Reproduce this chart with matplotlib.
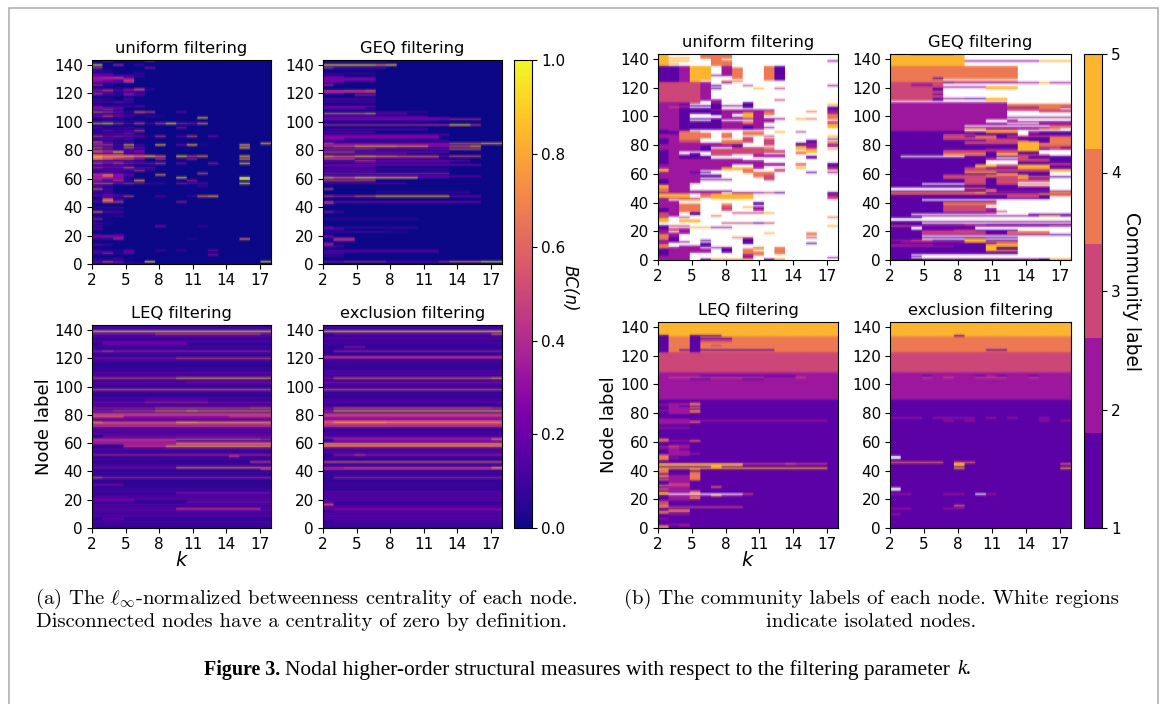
import numpy as np
import matplotlib
matplotlib.use('Agg')
import matplotlib.pyplot as plt
from matplotlib.cm import ScalarMappable
from matplotlib.colors import ListedColormap, Normalize

N_NODES = 143
K_VALUES = list(range(2, 19))
K_TICKS = [2, 5, 8, 11, 14, 17]
NODE_TICKS = [0, 20, 40, 60, 80, 100, 120, 140]
FILTERS = ['uniform filtering', 'GEQ filtering', 'LEQ filtering', 'exclusion filtering']
COMMUNITY_COLORS = ['#5c01a6', '#9c179e', '#cc4778', '#ed7953', '#fdb42f']

# node: values for k = 2, 3, 4 ...
BC_UNIFORM_ROWS = {
    142: [0, .25, 0, 0, 0, .3],
    139: [.95, 0, .4, 0, .12],
    137: [.45, 0, 0, 0, 0, .3],
    135: [.12, .08],
    133: [.15, .12, 0, 0, .12],
    132: [.2, .2, .1, .1],
    131: [.25, .2, .1, .15, .1],
    130: [.35, .45, .55, .2],
    129: [.3, .25, .2, .4],
    128: [.3, .25, .15, .45],
    127: [.25, .2, .15, .4],
    125: [.4, .1],
    122: [.2, .2, .1, .25, .6, .12],
    121: [.3, .5, .15, .3, .3],
    119: [.45, .2, .1, .3, .15],
    118: [.15, .1, .05, .3, .15],
    115: [.15, .1, 0, .25],
    113: [.2, .15, .25, .1],
    110: [.25, .1, .1, .15, .2],
    109: [.3, .15, .2],
    108: [.25, .4, .2],
    106: [.6, .45, .3, .1, .65, .5, 0, 0, .2],
    104: [.15, .2, .2, .1, .1],
    103: [.25, .5, .2, .1, 0, .1, .05],
    102: [0, 0, 0, 0, 0, 0, 0, 0, 0, 0, .85],
    100: [.1, .15, .1, .05, .05],
    98: [.75, .9, .45, .2, .55, .15, .5, .95, .35, .3, .7],
    95: [.2, .1, .1, .15, .05, 0, 0, 0, .3],
    93: [.1, .25, .15, .2, .5],
    91: [.15, .2, .2, .3, .1],
    89: [.5, .3, .35, .3, .25, .05, .45, 0, .2, .55, 0, .25],
    87: [.2, .25, .15, .2],
    85: [.55, .2, .1, .1],
    83: [.45, .45, .2, .85, .15, 0, .85, 0, .25, .85, .05, 0, 0, 0, .85],
    84: [.2, .1, 0, 0, 0, 0, 0, 0, 0, 0, 0, 0, 0, 0, 0, 0, .85],
    81: [.6, .35, .15, .6, .25, 0, 0, 0, 0, 0, 0, 0, 0, 0, .9],
    79: [.5, .4, .2, .2, .25],
    78: [.55, .4, .95, .2, .3],
    76: [.6, .55, .55, .3, .3, .1],
    75: [.75, .65, .7, .9, .75, .95, .7, 0, .95, .5, .75, 0, 0, 0, .9],
    74: [.7, .6, .55, .3, .2, .1, .15],
    73: [.7, .55, .4, .5, .3, 0, .4, 0, .1, .35, 0, 0, 0, 0, .75],
    71: [.3, .3, .3, .15, .1],
    70: [.5, .3, .45, .3, .25, .3, .5, 0, .25, 0, 0, .35, 0, 0, .9],
    68: [.2, .2, .2, .1],
    67: [.4, .25, .25, .55, .25, .25],
    65: [.2, .25, .2, .2, .45, .1],
    63: [.3, .25, .2, .1, 0, 0, 0, 0, 0, 0, .55],
    62: [.45, .7, .3, .2, 0, 0, .75],
    61: [.3, .5, .3, .1],
    60: [.4, .4, .25, 0, 0, 0, 0, 0, .9, 0, 0, 0, 0, 0, 1],
    59: [.3, .2, .25, 0, 0, 0, 0, 0, 0, 0, 0, 0, 0, 0, 1],
    58: [.35, .2, .45, .1, .85, 0, 0, 0, 0, .35],
    56: [.6, .6, .3, .4, .3, .1, .1, 0, .3, .2, .2, 0, 0, 0, .95],
    54: [.25, .1, 0, 0, 0, 0, 0, 0, 0, 0, .1],
    52: [.6, .2],
    50: [.1, .15],
    48: [.15, .25, .15],
    47: [.1, .2, .1, .5, 0, 0, .15, 0, 0, .1, .7, .85],
    45: [0, .65, .15],
    44: [.1, .6, .1],
    43: [.15, .55, .5, 0, 0, 0, 0, 0, .35],
    39: [.1, .1, .1],
    36: [.7, .25, .2],
    33: [.1, .05, .1],
    31: [.35],
    28: [.2, .05],
    26: [.15, 0, 0, 0, 0, 0, .3, 0, 0, 0, .1],
    24: [.2],
    20: [.1, 0, .15],
    19: [.3, .35, .25],
    18: [.1, .1, .3],
    17: [.1, .1, .35, 0, 0, 0, 0, 0, 0, .05, 0, 0, 0, 0, .75],
    13: [.2, .1],
    9: [.1, .05, .05, .2, 0, 0, .1, 0, .1, 0, 0, .25],
    8: [.1, .1, 0, .15],
    7: [.15, .35, .05, .2],
    6: [0, 0, 0, 0, 0, 0, 0, 0, 0, 0, 0, .3],
    3: [.1, .05, .15],
    1: [.25, .55, .3, .05, 0, 1, 0, 0, 0, 0, 0, 0, 0, 0, 0, 0, 1],
    0: [.05, .1, .1, .05, .05, .1],
}

# (node_low, node_high, k_first, k_last, value)
BC_GEQ_BANDS = [
    (142, 142, 2, 7, .1), (139, 139, 2, 8, .93), (139, 139, 7, 7, .75), (137, 137, 2, 2, .45), (137, 137, 3, 7, .2),
    (133, 133, 2, 6, .1), (131, 131, 2, 3, .2), (130, 130, 2, 6, .22), (129, 129, 2, 3, .25), (129, 129, 4, 6, .25),
    (128, 128, 2, 6, .2), (127, 127, 2, 3, .25), (125, 125, 2, 2, .4), (121, 121, 2, 3, .4), (121, 121, 4, 5, .48),
    (121, 121, 6, 6, .6), (120, 120, 2, 6, .4), (118, 118, 5, 6, .35), (119, 119, 2, 3, .2), (115, 115, 2, 6, .2),
    (113, 113, 2, 6, .15), (110, 110, 2, 6, .25), (109, 109, 2, 5, .2), (108, 108, 2, 6, .12), (106, 106, 7, 11, .1),
    (105, 105, 2, 5, .65), (105, 105, 6, 6, .78), (105, 105, 7, 9, .2), (103, 103, 2, 11, .15), (102, 102, 2, 13, .2),
    (101, 101, 2, 16, .25), (101, 101, 14, 16, .4), (100, 100, 2, 12, .1), (97, 97, 2, 13, .42), (97, 97, 14, 15, .9),
    (97, 97, 16, 16, .45), (94, 94, 2, 11, .18), (92, 92, 2, 6, .2), (90, 90, 2, 13, .2), (89, 89, 2, 12, .25),
    (88, 88, 2, 12, .3), (87, 87, 2, 3, .25), (86, 86, 2, 13, .15), (84, 84, 2, 2, .55), (84, 84, 3, 13, .3),
    (84, 84, 14, 16, .6), (84, 84, 17, 18, .85), (83, 83, 2, 13, .25), (82, 82, 2, 2, .45), (82, 82, 3, 4, .6),
    (82, 82, 5, 8, .85), (82, 82, 9, 11, .75), (82, 82, 12, 13, .3), (82, 82, 14, 15, .6), (82, 82, 16, 16, .85),
    (80, 80, 2, 6, .4), (80, 80, 7, 13, .25), (80, 80, 14, 16, .55), (78, 78, 2, 4, .5), (78, 78, 5, 13, .25),
    (77, 77, 2, 9, .2), (75, 75, 2, 2, .85), (75, 75, 3, 4, .65), (75, 75, 5, 6, .85), (75, 75, 7, 8, .7),
    (75, 75, 9, 12, .6), (75, 75, 13, 13, .25), (75, 75, 14, 16, .55), (74, 74, 2, 12, .25), (73, 73, 2, 4, .5),
    (72, 72, 5, 6, .45), (72, 72, 7, 15, .2), (71, 71, 2, 13, .2), (69, 69, 2, 16, .25), (68, 68, 2, 6, .2),
    (66, 66, 2, 13, .15), (65, 65, 2, 6, .2), (63, 63, 2, 13, .35), (61, 61, 2, 16, .2), (60, 60, 2, 2, .9),
    (60, 60, 3, 4, .65), (60, 60, 5, 6, .97), (60, 60, 7, 10, .85), (60, 60, 11, 13, .15), (58, 58, 2, 6, .5),
    (56, 56, 2, 9, .15), (52, 52, 2, 2, .5), (50, 50, 7, 15, .1), (47, 47, 2, 2, .5), (47, 47, 3, 4, .35),
    (47, 47, 5, 6, .55), (47, 47, 7, 13, .85), (47, 47, 14, 16, .25), (43, 43, 2, 2, .45), (43, 43, 3, 7, .25),
    (43, 43, 8, 16, .25), (42, 42, 2, 2, .4), (36, 36, 2, 2, .35), (36, 36, 3, 3, .15), (31, 31, 2, 10, .08),
    (25, 25, 2, 2, .3), (25, 25, 3, 10, .12), (24, 24, 2, 3, .15), (22, 22, 2, 7, .12), (22, 22, 8, 9, .08),
    (19, 19, 2, 2, .25), (18, 18, 2, 4, .2), (17, 17, 3, 4, .45), (16, 16, 3, 4, .35), (14, 14, 2, 2, .3),
    (13, 13, 2, 2, .35), (12, 12, 2, 3, .15), (9, 9, 2, 12, .15), (8, 8, 2, 12, .1), (7, 7, 2, 3, .15),
    (5, 5, 2, 3, .1), (1, 1, 2, 3, .3), (1, 1, 4, 7, .4), (1, 1, 8, 12, .22), (1, 1, 13, 13, .4),
    (1, 1, 14, 16, .72), (1, 1, 17, 18, 1),
]

BC_LEQ_BANDS = [
    (0, 142, 2, 18, .06), (139, 142, 2, 18, .1), (138, 138, 2, 18, .93), (136, 136, 2, 18, .3), (136, 136, 8, 17, .5),
    (134, 134, 2, 18, .18), (131, 131, 2, 18, .2), (129, 130, 3, 10, .22), (127, 127, 2, 18, .15), (124, 124, 2, 18, .35),
    (124, 124, 3, 3, .5), (122, 122, 2, 18, .12), (119, 119, 2, 9, .3), (119, 119, 10, 18, .5), (117, 117, 2, 18, .12),
    (112, 112, 2, 18, .1), (109, 109, 2, 18, .22), (107, 107, 2, 18, .18), (105, 105, 2, 9, .5), (105, 105, 10, 18, .8),
    (102, 102, 2, 18, .2), (102, 102, 11, 18, .3), (100, 100, 2, 18, .15), (97, 97, 2, 18, .58), (95, 95, 2, 18, .12),
    (91, 91, 2, 18, .15), (90, 90, 7, 12, .2), (88, 88, 2, 18, .28), (88, 88, 7, 12, .38), (86, 86, 2, 18, .18),
    (84, 84, 2, 7, .35), (84, 84, 8, 16, .5), (84, 84, 17, 18, .6), (82, 82, 2, 3, .4), (82, 82, 4, 7, .5),
    (82, 82, 8, 10, .7), (82, 82, 11, 11, .85), (82, 82, 12, 18, .7), (80, 80, 2, 18, .5), (79, 79, 2, 18, .45),
    (78, 78, 2, 4, .6), (78, 78, 5, 15, .3), (78, 78, 15, 18, .45), (76, 77, 2, 18, .25), (74, 74, 2, 2, .8),
    (74, 74, 3, 9, .6), (74, 74, 10, 11, .9), (74, 74, 12, 18, .8), (73, 73, 2, 18, .45), (72, 72, 2, 18, .35),
    (71, 71, 2, 18, .45), (68, 69, 2, 18, .18), (66, 66, 2, 18, .25), (64, 64, 3, 18, .3), (62, 62, 2, 18, .45),
    (62, 62, 10, 17, .6), (61, 61, 2, 9, .4), (60, 60, 2, 18, .3), (59, 59, 2, 9, .4), (59, 59, 10, 18, .8),
    (58, 58, 5, 18, .3), (57, 57, 5, 8, .5), (57, 57, 9, 18, .85), (55, 55, 2, 18, .2), (53, 53, 2, 18, .12),
    (51, 51, 2, 18, .38), (50, 50, 15, 15, .45), (48, 48, 2, 18, .15), (46, 46, 17, 18, .5), (44, 44, 2, 18, .15),
    (42, 42, 2, 9, .3), (42, 42, 10, 17, .7), (42, 42, 18, 18, .55), (41, 41, 18, 18, .45), (38, 38, 2, 18, .12),
    (35, 35, 2, 2, .6), (35, 35, 3, 18, .38), (30, 30, 2, 4, .28), (27, 27, 2, 18, .1), (25, 25, 2, 18, .15),
    (24, 24, 10, 18, .28), (22, 22, 2, 18, .18), (20, 20, 2, 18, .22), (19, 19, 2, 5, .25), (18, 18, 11, 18, .28),
    (16, 16, 2, 18, .18), (14, 14, 2, 18, .18), (13, 13, 10, 17, .45), (12, 12, 2, 18, .22), (10, 10, 2, 18, .15),
    (8, 8, 2, 18, .2), (6, 6, 3, 4, .25), (4, 4, 2, 18, .15), (2, 2, 2, 18, .12),
]

BC_EXCL_BANDS = [
    (0, 142, 2, 18, .07), (140, 142, 2, 18, .1), (138, 138, 2, 18, .93), (136, 136, 3, 17, .22), (136, 136, 18, 18, .6),
    (133, 133, 2, 18, .18), (130, 130, 2, 18, .15), (127, 127, 4, 5, .3), (124, 124, 3, 18, .35), (120, 120, 2, 18, .5),
    (119, 119, 2, 18, .3), (116, 116, 2, 18, .12), (110, 110, 2, 18, .2), (108, 108, 2, 18, .2), (105, 105, 2, 2, .3),
    (105, 105, 3, 18, .62), (105, 105, 18, 18, .8), (102, 102, 2, 18, .3), (100, 100, 2, 18, .15), (97, 97, 2, 18, .55),
    (94, 94, 2, 18, .12), (90, 90, 2, 18, .15), (88, 88, 2, 18, .2), (84, 84, 2, 2, .3), (84, 84, 3, 17, .55),
    (84, 84, 18, 18, .45), (82, 82, 2, 2, .4), (82, 82, 3, 18, .82), (80, 80, 2, 18, .4), (79, 79, 2, 18, .5),
    (78, 78, 2, 18, .42), (76, 77, 2, 18, .28), (75, 75, 2, 18, .45), (74, 74, 2, 2, .6), (74, 74, 3, 7, .85),
    (74, 74, 8, 18, .75), (73, 73, 2, 18, .45), (72, 72, 2, 18, .4), (71, 71, 2, 18, .45), (67, 67, 2, 18, .15),
    (65, 65, 2, 18, .15), (63, 63, 2, 18, .35), (62, 62, 3, 17, .3), (62, 62, 18, 18, .65), (61, 61, 3, 18, .3),
    (59, 59, 2, 18, .75), (58, 58, 2, 18, .5), (57, 57, 2, 18, .7), (55, 55, 2, 18, .18), (53, 53, 2, 18, .18),
    (51, 51, 3, 18, .35), (51, 51, 5, 5, .5), (49, 49, 2, 18, .12), (46, 46, 2, 18, .6), (44, 44, 2, 18, .12),
    (42, 42, 2, 3, .4), (42, 42, 4, 17, .48), (42, 42, 18, 18, .85), (41, 41, 2, 18, .38), (38, 38, 2, 18, .12),
    (35, 35, 3, 18, .38), (30, 30, 2, 18, .1), (25, 25, 2, 18, .2), (23, 23, 2, 18, .2), (21, 21, 2, 18, .2),
    (19, 19, 2, 18, .18), (16, 16, 2, 2, .6), (17, 17, 2, 2, .25), (15, 15, 2, 18, .2), (13, 13, 2, 18, .28),
    (12, 12, 3, 18, .22), (10, 10, 2, 18, .18), (8, 8, 2, 18, .2), (6, 6, 2, 18, .18), (4, 4, 3, 18, .15),
    (2, 2, 2, 18, .12),
]

# community labels, 0 marks an isolated node
COMM_UNIFORM_BANDS = [
    (134, 142, 2, 2, 5), (142, 142, 3, 4, 5), (139, 139, 3, 4, 5), (137, 137, 3, 4, 5), (135, 135, 3, 3, 5),
    (134, 142, 7, 8, 4), (139, 142, 6, 6, 4), (138, 138, 8, 8, 0),
    (122, 133, 2, 3, 1), (122, 133, 4, 4, 2), (123, 133, 5, 5, 5), (130, 133, 6, 6, 5), (128, 129, 6, 6, 5), (124, 127, 6, 6, 5),
    (127, 133, 8, 8, 2), (125, 132, 9, 9, 4), (124, 133, 12, 12, 4), (125, 133, 13, 13, 1), (123, 123, 8, 9, 4), (124, 124, 13, 13, 1),
    (122, 122, 8, 8, 2), (127, 127, 7, 7, 2), (120, 120, 7, 7, 1), (118, 118, 7, 7, 1), (120, 120, 10, 10, 3), (118, 118, 11, 11, 5), (118, 118, 13, 13, 3),
    (108, 122, 2, 5, 3), (110, 122, 6, 6, 2), (110, 110, 13, 13, 3), (110, 110, 5, 5, 3),
    (89, 108, 2, 3, 2), (105, 105, 3, 4, 3), (89, 108, 4, 4, 2), (90, 103, 4, 7, 1), (100, 104, 4, 6, 1),
    (107, 107, 4, 4, 1), (106, 106, 5, 6, 1), (104, 104, 5, 5, 1), (101, 102, 5, 7, 1), (98, 99, 5, 7, 0), (96, 96, 5, 6, 0), (100, 100, 5, 6, 0),
    (103, 110, 7, 7, 2), (104, 107, 7, 7, 1), (105, 108, 10, 10, 1), (106, 106, 8, 9, 2), (90, 102, 8, 11, 2), (102, 103, 8, 12, 2),
    (99, 100, 9, 9, 0), (96, 96, 8, 10, 0), (98, 101, 10, 10, 5), (94, 95, 10, 10, 4), (90, 92, 10, 10, 1), (100, 102, 12, 12, 4), (97, 97, 12, 13, 2), (95, 96, 12, 12, 2),
    (91, 91, 11, 12, 2), (97, 97, 15, 15, 5), (97, 97, 16, 16, 4), (102, 102, 16, 16, 4), (88, 88, 15, 15, 3),
    (104, 105, 18, 18, 1), (107, 107, 18, 18, 5), (101, 103, 18, 18, 2), (97, 100, 18, 18, 4), (94, 95, 18, 18, 3), (91, 93, 18, 18, 5), (85, 85, 18, 18, 5), (83, 83, 18, 18, 2),
    (80, 81, 18, 18, 4), (78, 79, 18, 18, 2), (76, 76, 18, 18, 5), (65, 66, 18, 18, 1), (63, 64, 18, 18, 2), (62, 62, 18, 18, 4), (60, 60, 18, 18, 2),
    (46, 46, 18, 18, 1), (44, 45, 18, 18, 2), (42, 43, 18, 18, 3), (29, 29, 18, 18, 4), (23, 23, 18, 18, 5), (1, 1, 18, 18, 2), (137, 137, 18, 18, 2), (120, 120, 18, 18, 2),
    (87, 89, 2, 2, 1), (84, 86, 2, 2, 2), (80, 83, 2, 2, 1), (76, 79, 2, 2, 2), (72, 75, 2, 2, 1), (66, 71, 2, 2, 1), (62, 65, 2, 2, 2), (61, 62, 2, 2, 5),
    (56, 60, 2, 2, 2), (52, 55, 2, 2, 1), (50, 51, 2, 2, 5), (47, 49, 2, 2, 4), (43, 45, 2, 2, 5), (41, 42, 2, 2, 2), (36, 40, 2, 2, 2), (33, 35, 2, 2, 1),
    (29, 32, 2, 2, 3), (26, 28, 2, 2, 5), (24, 25, 2, 2, 0), (21, 23, 2, 2, 1), (18, 20, 2, 2, 2), (14, 17, 2, 2, 4), (11, 13, 2, 2, 2), (8, 10, 2, 2, 4),
    (3, 7, 2, 2, 1), (0, 2, 2, 2, 2),
    (56, 89, 3, 4, 2), (87, 88, 3, 3, 1), (83, 85, 4, 5, 4), (86, 88, 4, 5, 4), (81, 82, 4, 5, 3), (76, 80, 4, 5, 2), (73, 74, 4, 4, 0), (70, 71, 4, 5, 1),
    (62, 69, 5, 8, 2), (72, 76, 5, 5, 1), (75, 78, 5, 5, 2), (74, 74, 5, 5, 0), (84, 87, 6, 6, 4), (78, 80, 6, 8, 2), (72, 76, 7, 8, 3), (75, 78, 6, 6, 1),
    (70, 71, 6, 6, 1), (69, 69, 7, 9, 2), (65, 68, 7, 8, 2), (80, 82, 8, 9, 4), (84, 87, 8, 8, 4), (73, 77, 9, 11, 3), (78, 79, 9, 9, 1), (81, 84, 10, 10, 3), (86, 88, 10, 11, 4),
    (76, 77, 12, 12, 4), (74, 75, 12, 13, 3), (71, 72, 11, 13, 2), (79, 83, 12, 12, 3), (85, 85, 12, 12, 3), (88, 88, 13, 13, 5), (79, 80, 15, 15, 1), (76, 78, 15, 15, 5),
    (73, 74, 15, 15, 4), (81, 82, 16, 16, 1), (77, 80, 16, 16, 2), (74, 76, 16, 16, 5), (70, 71, 16, 16, 1), (65, 66, 15, 15, 4), (63, 63, 15, 15, 5), (60, 60, 16, 16, 1),
    (66, 68, 9, 10, 2), (62, 63, 8, 10, 5), (60, 62, 10, 10, 4), (57, 60, 11, 12, 4), (63, 68, 11, 11, 2), (65, 66, 12, 13, 2), (61, 62, 13, 13, 3), (55, 58, 12, 12, 3),
    (53, 62, 3, 5, 2), (60, 60, 5, 6, 1), (57, 58, 6, 7, 1), (55, 55, 6, 8, 2), (51, 52, 3, 4, 2), (48, 50, 3, 4, 2),
    (47, 47, 3, 7, 2), (46, 46, 2, 7, 2), (47, 47, 8, 8, 1), (46, 46, 9, 11, 2), (46, 46, 13, 13, 1), (46, 46, 12, 12, 3), (43, 45, 3, 4, 5), (43, 45, 6, 6, 4), (42, 45, 7, 10, 5),
    (42, 42, 3, 5, 3), (41, 41, 4, 5, 5), (37, 40, 3, 3, 2), (30, 36, 3, 3, 2), (36, 38, 4, 5, 4), (33, 35, 4, 5, 4), (31, 32, 5, 5, 1), (37, 38, 8, 8, 4), (34, 36, 8, 8, 3),
    (38, 39, 11, 11, 1), (34, 36, 11, 11, 2), (36, 36, 10, 10, 5), (32, 32, 9, 11, 3), (32, 32, 12, 12, 5), (30, 30, 7, 7, 4), (29, 29, 4, 4, 3), (26, 27, 4, 5, 5),
    (25, 25, 8, 10, 3), (25, 25, 11, 11, 1), (25, 25, 12, 12, 3), (23, 23, 3, 4, 3), (22, 22, 7, 8, 2), (22, 22, 5, 6, 5), (18, 21, 4, 4, 2), (20, 21, 3, 3, 3), (16, 18, 3, 3, 2), (13, 15, 3, 3, 1),
    (12, 12, 3, 4, 2), (18, 18, 12, 12, 5), (17, 18, 16, 16, 4), (15, 15, 16, 16, 3), (11, 11, 16, 16, 1), (15, 15, 9, 10, 4), (13, 14, 10, 10, 1), (11, 12, 10, 10, 1),
    (8, 8, 7, 8, 2), (7, 7, 8, 8, 1), (5, 6, 8, 8, 1), (8, 9, 4, 5, 2), (5, 7, 3, 6, 2), (8, 8, 3, 3, 2), (9, 11, 6, 6, 1), (13, 13, 6, 6, 1), (6, 7, 10, 10, 4), (4, 5, 10, 10, 4),
    (8, 8, 11, 11, 4), (8, 8, 13, 13, 4), (4, 7, 13, 13, 4), (7, 7, 11, 11, 5), (3, 5, 11, 11, 4), (0, 2, 3, 4, 2), (3, 4, 3, 4, 2), (0, 0, 6, 6, 2), (0, 0, 7, 10, 5), (0, 0, 12, 12, 2), (0, 0, 13, 13, 5), (1, 3, 10, 10, 2),
]

COMM_GEQ_BANDS = [
    (134, 143, 2, 8, 5), (142, 142, 4, 7, 1), (137, 137, 9, 15, 2), (137, 137, 16, 18, 5),
    (123, 133, 2, 13, 4), (125, 125, 6, 6, 1), (124, 124, 7, 13, 0), (123, 123, 7, 13, 4),
    (110, 122, 2, 6, 3), (120, 121, 4, 5, 2), (117, 118, 6, 6, 1), (114, 114, 6, 6, 1), (110, 111, 6, 6, 1),
    (122, 122, 7, 18, 2), (122, 122, 7, 7, 1), (122, 122, 16, 16, 5), (119, 119, 7, 10, 2), (118, 119, 11, 13, 5), (111, 111, 7, 8, 2), (111, 111, 9, 10, 1), (110, 111, 11, 12, 5),
    (89, 108, 2, 8, 2), (108, 108, 9, 9, 0), (105, 107, 9, 10, 4), (108, 108, 11, 18, 0), (104, 108, 9, 12, 2), (106, 107, 13, 18, 4), (105, 105, 13, 18, 2), (103, 104, 13, 15, 3), (104, 105, 16, 17, 4),
    (102, 103, 16, 18, 3), (100, 101, 13, 18, 0), (98, 99, 11, 18, 2), (99, 99, 13, 18, 0), (97, 97, 9, 10, 5), (96, 96, 11, 12, 0), (95, 96, 13, 18, 2), (96, 96, 14, 18, 0), (93, 94, 11, 18, 2), (94, 94, 13, 15, 0),
    (92, 92, 11, 16, 0), (90, 91, 9, 15, 2), (90, 90, 16, 17, 4), (91, 91, 16, 16, 2), (91, 92, 17, 18, 4), (97, 103, 9, 12, 2), (94, 96, 9, 10, 2), (93, 93, 9, 10, 2),
    (0, 88, 2, 18, 1),
    (90, 90, 9, 10, 5), (88, 88, 9, 15, 2), (88, 89, 11, 13, 5), (87, 87, 11, 15, 2), (86, 86, 7, 9, 3), (85, 85, 7, 8, 3), (83, 84, 7, 10, 3), (84, 85, 10, 11, 4), (82, 83, 11, 13, 3), (80, 81, 9, 13, 3),
    (86, 88, 14, 14, 0), (84, 84, 14, 17, 1), (85, 85, 13, 18, 3), (83, 83, 14, 17, 1), (82, 82, 14, 14, 3), (75, 81, 14, 15, 5), (77, 79, 16, 17, 3), (79, 80, 16, 18, 4), (81, 84, 17, 18, 4), (76, 78, 17, 18, 3), (72, 75, 16, 18, 0), (77, 77, 18, 18, 1),
    (74, 75, 7, 13, 3), (72, 73, 7, 13, 4), (76, 76, 11, 13, 2), (71, 71, 3, 8, 0), (71, 71, 9, 13, 1), (69, 70, 11, 13, 2), (70, 70, 12, 13, 0), (72, 74, 11, 11, 1), (72, 73, 12, 13, 5), (68, 72, 14, 16, 3), (70, 71, 15, 16, 1),
    (65, 68, 11, 13, 0), (64, 65, 10, 11, 5), (63, 65, 14, 16, 5), (64, 65, 12, 13, 3), (66, 66, 17, 18, 3), (65, 65, 17, 18, 2), (63, 63, 9, 10, 3), (61, 62, 9, 16, 3), (61, 62, 17, 18, 5), (60, 60, 9, 11, 5), (59, 59, 12, 13, 5),
    (56, 58, 7, 10, 3), (57, 58, 11, 13, 4), (52, 56, 9, 10, 3), (53, 56, 11, 11, 1), (52, 57, 12, 13, 3), (56, 58, 14, 14, 5), (57, 57, 14, 16, 4), (54, 55, 14, 16, 3), (52, 52, 14, 16, 4), (48, 56, 17, 18, 0), (50, 51, 14, 16, 2), (58, 60, 17, 18, 0),
    (52, 52, 5, 8, 0), (51, 51, 14, 16, 0), (53, 53, 14, 16, 0), (48, 49, 2, 8, 0), (49, 49, 9, 10, 4), (47, 47, 9, 18, 2), (47, 48, 11, 11, 4), (46, 46, 2, 9, 4), (45, 45, 2, 18, 3), (46, 46, 10, 10, 5), (45, 45, 16, 16, 5), (46, 46, 17, 18, 5),
    (41, 44, 14, 16, 1), (41, 43, 17, 18, 0), (44, 44, 17, 18, 4), (43, 44, 13, 15, 3), (41, 41, 5, 18, 0), (33, 40, 12, 18, 0), (39, 40, 7, 7, 1), (37, 38, 7, 10, 3), (33, 36, 7, 10, 3), (38, 39, 7, 11, 4), (34, 34, 11, 11, 4), (32, 33, 11, 12, 3), (32, 32, 12, 18, 0), (31, 36, 11, 11, 2), (36, 37, 11, 11, 0),
    (31, 31, 4, 14, 0), (30, 30, 4, 15, 2), (30, 30, 16, 17, 5), (30, 30, 18, 18, 2), (29, 29, 5, 18, 0), (27, 28, 2, 4, 0), (25, 28, 5, 18, 0), (26, 26, 5, 18, 2), (25, 25, 5, 18, 0), (24, 24, 9, 9, 5),
    (23, 23, 2, 3, 3), (23, 23, 4, 8, 2), (23, 24, 9, 10, 2), (23, 23, 11, 16, 2), (23, 23, 17, 18, 3), (21, 22, 10, 18, 0), (21, 22, 4, 4, 0), (20, 20, 5, 7, 2), (20, 20, 8, 9, 3), (18, 19, 5, 10, 3), (18, 19, 11, 12, 1), (18, 19, 13, 16, 4), (17, 17, 5, 16, 2),
    (15, 16, 5, 8, 1), (16, 16, 5, 18, 0), (14, 14, 5, 18, 0), (13, 13, 2, 3, 2), (13, 13, 4, 5, 3), (12, 14, 9, 10, 5), (12, 12, 3, 8, 2), (11, 12, 11, 16, 4), (12, 13, 17, 18, 0), (11, 11, 11, 11, 1), (9, 10, 2, 5, 2), (9, 9, 6, 7, 2),
    (10, 10, 11, 13, 0), (9, 9, 12, 13, 1), (6, 10, 11, 13, 5), (7, 8, 12, 13, 1), (4, 8, 9, 10, 1), (4, 8, 14, 18, 0), (3, 3, 4, 4, 0), (2, 3, 5, 18, 0), (1, 1, 4, 18, 0), (0, 0, 5, 15, 2), (0, 0, 17, 18, 5),
    (10, 15, 17, 18, 0), (5, 11, 14, 18, 0), (10, 16, 14, 16, 0), (18, 19, 17, 18, 0), (20, 22, 14, 18, 0),
]

COMM_LEQ_BANDS = [
    (133, 143, 2, 18, 5), (122, 132, 2, 18, 4), (108, 121, 2, 18, 3), (89, 107, 2, 18, 2), (0, 88, 2, 18, 1),
    (122, 133, 2, 2, 1), (122, 133, 5, 5, 1), (133, 133, 6, 7, 1), (131, 131, 6, 8, 1), (129, 130, 6, 8, 3), (126, 126, 7, 7, 3), (123, 123, 4, 12, 1), (123, 123, 5, 12, 1),
    (105, 105, 6, 14, 1), (104, 104, 3, 5, 3), (104, 104, 6, 11, 3), (104, 104, 15, 15, 3), (103, 103, 5, 6, 1), (103, 103, 10, 11, 1),
    (85, 86, 5, 5, 4), (83, 83, 5, 5, 4), (80, 81, 5, 5, 4), (79, 86, 3, 4, 2), (85, 85, 2, 2, 2), (81, 81, 2, 2, 2), (84, 84, 4, 4, 1), (74, 74, 2, 17, 2), (75, 75, 2, 4, 2), (73, 73, 5, 5, 4),
    (69, 69, 2, 4, 2), (72, 73, 2, 4, 2), (60, 61, 2, 2, 4), (60, 60, 5, 5, 4), (60, 60, 3, 4, 2), (57, 57, 3, 4, 2), (55, 56, 2, 2, 2), (50, 56, 3, 4, 2), (54, 54, 4, 4, 1), (56, 56, 3, 3, 3),
    (49, 50, 2, 2, 4), (51, 51, 4, 5, 2), (47, 48, 2, 2, 4), (48, 48, 3, 3, 2),
    (44, 44, 9, 17, 3), (44, 44, 14, 14, 4), (43, 44, 2, 9, 5), (42, 43, 7, 7, 5), (42, 42, 8, 9, 1), (41, 41, 2, 17, 5), (40, 40, 2, 2, 4), (40, 40, 5, 5, 4), (38, 39, 2, 2, 4), (37, 38, 5, 5, 4), (33, 36, 5, 5, 4),
    (31, 36, 3, 4, 2), (35, 36, 2, 2, 4), (33, 33, 2, 2, 4), (29, 30, 3, 4, 3), (29, 29, 2, 2, 4), (28, 28, 7, 7, 4), (26, 27, 2, 2, 3), (24, 25, 5, 5, 4), (24, 28, 3, 4, 2),
    (23, 24, 2, 2, 5), (23, 23, 3, 9, 0), (22, 22, 3, 9, 2), (22, 22, 7, 7, 5), (23, 23, 10, 10, 3), (21, 21, 3, 4, 2), (20, 21, 5, 5, 4), (19, 20, 3, 4, 2), (16, 18, 2, 2, 3),
    (14, 15, 2, 2, 4), (14, 14, 3, 9, 3), (11, 12, 3, 4, 4), (10, 11, 2, 2, 4), (9, 9, 3, 4, 2), (6, 6, 2, 2, 2), (2, 2, 3, 4, 2), (0, 1, 2, 2, 4), (1, 1, 4, 4, 2),
]

COMM_EXCL_BANDS = [
    (133, 143, 2, 18, 5), (122, 132, 2, 18, 4), (108, 121, 2, 18, 3), (89, 107, 2, 18, 2), (0, 88, 2, 18, 1),
    (133, 133, 8, 8, 1), (123, 123, 11, 12, 1), (105, 105, 5, 5, 1), (105, 105, 10, 10, 1), (105, 105, 12, 12, 1), (105, 105, 15, 15, 1),
    (104, 104, 5, 5, 3), (104, 104, 7, 7, 3), (104, 104, 10, 11, 3), (104, 104, 12, 12, 3), (104, 104, 15, 15, 3),
    (76, 76, 2, 4, 2), (76, 76, 6, 9, 2), (76, 76, 11, 11, 2), (76, 76, 13, 13, 2), (76, 76, 16, 16, 2), (74, 74, 7, 7, 2), (74, 74, 9, 9, 2), (74, 74, 16, 16, 2), (74, 74, 18, 18, 2),
    (48, 49, 2, 2, 0), (45, 45, 2, 6, 4), (45, 45, 8, 9, 4), (44, 44, 18, 18, 4), (43, 44, 8, 8, 5), (41, 41, 8, 8, 5), (41, 41, 18, 18, 5),
    (26, 27, 2, 2, 0), (23, 23, 2, 3, 2), (23, 23, 7, 8, 2), (23, 23, 10, 10, 0), (23, 23, 11, 11, 2), (15, 15, 8, 8, 4), (13, 13, 2, 3, 2), (13, 13, 7, 8, 2), (9, 9, 2, 2, 2),
]


def bc_grid_from_rows(rows):
    grid = np.zeros((N_NODES, len(K_VALUES)))
    for node, values in rows.items():
        grid[node, :len(values)] = values
    return grid


def grid_from_bands(bands, start, isolated_is_nan=False):
    grid = np.full((N_NODES, len(K_VALUES)), start, dtype=float)
    for node_lo, node_hi, k_lo, k_hi, value in bands:
        grid[node_lo:min(node_hi, N_NODES - 1) + 1, k_lo - 2:k_hi - 1] = value
    if isolated_is_nan:
        grid[grid == 0] = np.nan
    return grid


def make_axes(fig, left, top, right, bottom):
    W, H = fig.get_size_inches() * fig.dpi
    return fig.add_axes([left / W, 1 - bottom / H, (right - left) / W, (bottom - top) / H])


def draw_panel(ax, grid, title, cmap, norm):
    # soften between node rows like the low resolution raster of the original
    rgba = cmap(norm(np.ma.masked_invalid(grid)))
    soft = rgba.copy()
    soft[1:-1] = .2 * rgba[:-2] + .6 * rgba[1:-1] + .2 * rgba[2:]
    # repeat along k so the smoothing does not smear whole columns
    ax.imshow(np.repeat(soft, 8, axis=1), origin='lower', aspect='auto', extent=[2, 18, 0, 143.5],
              interpolation='hanning')
    ax.set_xticks(K_TICKS)
    ax.set_yticks(NODE_TICKS)
    ax.tick_params(labelsize=11, length=3.5, pad=3)
    ax.set_title(title, fontsize=11.8, pad=5)


def main():
    fig = plt.figure(figsize=(11.68, 7.04), dpi=100)

    bc_grids = [bc_grid_from_rows(BC_UNIFORM_ROWS), grid_from_bands(BC_GEQ_BANDS, 0),
                grid_from_bands(BC_LEQ_BANDS, 0), grid_from_bands(BC_EXCL_BANDS, 0)]
    comm_grids = [grid_from_bands(b, 0, True) for b in
                  (COMM_UNIFORM_BANDS, COMM_GEQ_BANDS, COMM_LEQ_BANDS, COMM_EXCL_BANDS)]

    bc_boxes = [(92, 60, 271, 264), (323, 60, 502, 264), (92, 325, 271, 528), (323, 325, 502, 528)]
    comm_boxes = [(658, 54, 838, 260), (890, 54, 1071, 260), (658, 322, 838, 528), (890, 322, 1071, 528)]

    bc_cmap = plt.get_cmap('plasma')
    bc_norm = Normalize(0, 1)
    for box, grid, title in zip(bc_boxes, bc_grids, FILTERS):
        draw_panel(make_axes(fig, *box), grid, title, bc_cmap, bc_norm)
    comm_cmap = ListedColormap(COMMUNITY_COLORS)
    comm_cmap.set_bad('white')
    comm_norm = Normalize(1, 5)
    for box, grid, title in zip(comm_boxes, comm_grids, FILTERS):
        draw_panel(make_axes(fig, *box), grid, title, comm_cmap, comm_norm)

    cax = make_axes(fig, 514, 60, 532, 528)
    cb = fig.colorbar(ScalarMappable(norm=bc_norm, cmap=bc_cmap), cax=cax)
    cb.set_ticks([0, .2, .4, .6, .8, 1])
    cb.ax.tick_params(labelsize=11, length=3.5, pad=3)
    fig.text(570 / 1168, 1 - 288 / 704, 'BC(n)', style='italic', rotation=270, fontsize=12, ha='center', va='center')

    cax = make_axes(fig, 1084, 54, 1102, 528)
    cb = fig.colorbar(ScalarMappable(norm=comm_norm, cmap=comm_cmap), cax=cax)
    cb.set_ticks([1, 2, 3, 4, 5])
    cb.ax.tick_params(labelsize=11, length=3.5, pad=3)
    fig.text(1132 / 1168, 1 - 291 / 704, 'Community label', rotation=270, fontsize=13.4, ha='center', va='center')

    fig.text(44 / 1168, 1 - 427 / 704, 'Node label', rotation=90, fontsize=13, ha='center', va='center')
    fig.text(609 / 1168, 1 - 425 / 704, 'Node label', rotation=90, fontsize=13, ha='center', va='center')
    fig.text(181 / 1168, 1 - 561 / 704, 'k', style='italic', fontsize=14, ha='center', va='center')
    fig.text(747 / 1168, 1 - 561 / 704, 'k', style='italic', fontsize=14, ha='center', va='center')

    cap = dict(fontsize=14.9, family='cmr10', math_fontfamily='cm', ha='center', va='center')
    fig.text(306 / 1168, 1 - 599 / 704, r'(a) The $\ell_\infty$' + '-normalized betweenness centrality of each node.', **cap)
    fig.text(302 / 1168, 1 - 622 / 704, 'Disconnected nodes have a centrality of zero by definition.', **cap)
    fig.text(871 / 1168, 1 - 599 / 704, '(b) The community labels of each node. White regions', **cap)
    fig.text(871 / 1168, 1 - 622 / 704, 'indicate isolated nodes.', **cap)

    fig.text(204 / 1168, 1 - 670 / 704, 'Figure 3.', fontsize=14.4, family='Liberation Serif', weight='bold', ha='left', va='center')
    fig.text(285 / 1168, 1 - 670 / 704, 'Nodal higher-order structural measures with respect to the filtering parameter', fontsize=15.4,
             family='Liberation Serif', ha='left', va='center')
    fig.text(957 / 1168, 1 - 670 / 704, 'k.', fontsize=15, family='Liberation Serif', style='italic', ha='left', va='center')

    # grey page frame
    frame = plt.Rectangle((9 / 1168, -0.1), 1149 / 1168, 1.1 - 8 / 704, transform=fig.transFigure,
                          fill=False, edgecolor='#b0b0b0', linewidth=1.2)
    fig.add_artist(frame)

    fig.savefig('out.png', dpi=100)


if __name__ == '__main__':
    main()
